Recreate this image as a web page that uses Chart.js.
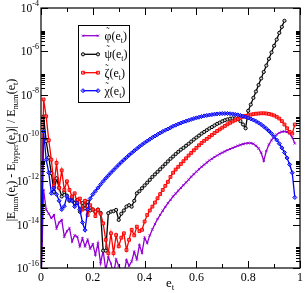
<!DOCTYPE html>
<html>
<head>
<meta charset="utf-8">
<script src="https://cdn.jsdelivr.net/npm/chart.js@4.4.0/dist/chart.umd.min.js"></script>
<style>
body { margin: 0; background: #fff; }
canvas { display: block; }
</style>
</head>
<body>
<canvas id="errChart" width="306" height="293"></canvas>
<script>
/* eccentricity grid */
const eT = [0,0.01,0.02,0.03,0.04,0.05,0.06,0.07,0.08,0.09,
  0.1,0.11,0.12,0.13,0.14,0.15,0.16,0.17,0.18,0.19,
  0.2,0.21,0.22,0.23,0.24,0.25,0.26,0.27,0.28,0.29,
  0.3,0.31,0.32,0.33,0.34,0.35,0.36,0.37,0.38,0.39,
  0.4,0.41,0.42,0.43,0.44,0.45,0.46,0.47,0.48,0.49,
  0.5,0.51,0.52,0.53,0.54,0.55,0.56,0.57,0.58,0.59,
  0.6,0.61,0.62,0.63,0.64,0.65,0.66,0.67,0.68,0.69,
  0.7,0.71,0.72,0.73,0.74,0.75,0.76,0.77,0.78,0.79,
  0.8,0.81,0.82,0.83,0.84,0.85,0.86,0.87,0.88,0.89,
  0.9,0.91,0.92,0.93,0.94,0.95,0.96,0.97,0.98,0.99];

/* relative errors, one value per e_t (null = no point) */
const phiErr = [1e-17,4.0e-13,5.0e-14,3.2e-14,2.0e-14,2.8e-14,6.8e-15,1.26e-14,1.66e-14,2.8e-15,
  5.0e-15,6.8e-15,1.66e-15,3.2e-15,2.8e-15,1e-15,2.35e-15,1e-15,2.0e-15,7.9e-16,
  1.26e-15,4.0e-16,1.38e-15,1.66e-16,6.3e-16,7.9e-17,3.2e-16,1.6e-16,5.0e-17,2.5e-16,
  1.26e-16,7.9e-17,5.0e-17,2.35e-16,1.26e-16,2.0e-16,5.6e-16,2.5e-16,1.15e-15,5.0e-16,
  2.5e-15,1.4e-15,3.2e-15,6.0e-15,1.07e-14,1.8e-14,2.8e-14,4.4e-14,6.6e-14,9.8e-14,
  1.4e-13,2.0e-13,2.75e-13,3.7e-13,5.0e-13,6.6e-13,8.9e-13,1.2e-12,1.62e-12,2.14e-12,
  2.8e-12,3.6e-12,4.7e-12,5.9e-12,7.4e-12,9.1e-12,1.1e-11,1.32e-11,1.55e-11,1.82e-11,
  2.1e-11,2.4e-11,2.75e-11,3.1e-11,3.5e-11,3.9e-11,4.4e-11,4.8e-11,5.2e-11,5.6e-11,
  5.8e-11,5.8e-11,5.4e-11,4.4e-11,3.3e-11,2.1e-11,8.7e-12,2.5e-11,5.0e-11,7.9e-11,
  1.12e-10,1.45e-10,1.74e-10,1.95e-10,2.0e-10,1.9e-10,1.6e-10,1.07e-10,5.6e-11,null];

const psiErr = [1.8e-15,1e-9,7.1e-11,1.26e-11,2.35e-12,3.3e-13,1.38e-12,5.0e-13,2.0e-13,3.2e-13,
  2.2e-13,1.26e-13,1.8e-13,1e-13,1.4e-13,4.0e-14,1e-13,5.6e-14,1.12e-13,4.5e-14,
  5.0e-14,4.0e-14,5.0e-14,3.5e-14,6.3e-16,6.3e-16,3.4e-14,4.0e-14,4.2e-14,4.8e-14,
  1.66e-14,3.2e-14,4.5e-14,6.8e-14,7.9e-14,6.8e-14,1.26e-13,2.8e-13,3.5e-13,4.8e-13,
  6.5e-13,8.7e-13,1.17e-12,1.6e-12,2.1e-12,2.75e-12,3.6e-12,4.8e-12,6.3e-12,8.3e-12,
  1.1e-11,1.4e-11,1.82e-11,2.3e-11,2.9e-11,3.5e-11,4.4e-11,5.4e-11,6.8e-11,8.5e-11,
  1.05e-10,1.29e-10,1.6e-10,1.9e-10,2.3e-10,2.75e-10,3.2e-10,3.8e-10,4.5e-10,5.1e-10,
  5.9e-10,6.6e-10,7.2e-10,7.8e-10,8.1e-10,8.1e-10,7.6e-10,6.0e-10,4.2e-10,2.8e-10,
  1.8e-9,3.5e-9,7.1e-9,1.4e-8,2.8e-8,5.6e-8,1.12e-7,2.2e-7,4.5e-7,8.9e-7,
  1.8e-6,3.5e-6,7.1e-6,1.35e-5,2.57e-5,null,null,null,null,null];

const zetaErr = [1e-17,6.0e-9,1e-9,7.9e-11,1e-11,6.3e-13,7.1e-12,5.0e-13,3.2e-12,4.0e-13,
  1e-12,4.0e-13,2.0e-13,2.8e-13,1e-13,1.6e-13,5.0e-14,1.26e-13,2.8e-14,7.9e-14,
  5.0e-14,2.5e-14,4.8e-14,3.2e-14,1.15e-14,2.0e-15,4.8e-16,4.0e-15,4.8e-16,3.3e-15,
  1e-15,2.5e-15,4.0e-15,6.8e-16,2.0e-15,5.8e-15,3.2e-15,8.1e-15,5.0e-15,5.8e-15,
  1.4e-14,2.8e-14,4.5e-14,6.8e-14,1.05e-13,1.66e-13,2.57e-13,4.0e-13,6.2e-13,9.5e-13,
  1.6e-12,2.5e-12,3.5e-12,4.7e-12,6.3e-12,8.5e-12,1.15e-11,1.55e-11,2.04e-11,2.7e-11,
  3.5e-11,4.6e-11,5.9e-11,7.4e-11,9.1e-11,1.12e-10,1.38e-10,1.7e-10,2.1e-10,2.5e-10,
  3.0e-10,3.6e-10,4.3e-10,5.0e-10,5.8e-10,6.6e-10,7.6e-10,8.5e-10,9.5e-10,1.05e-9,
  1.12e-9,1.2e-9,1.26e-9,1.32e-9,1.35e-9,1.38e-9,1.38e-9,1.35e-9,1.29e-9,1.2e-9,
  1.1e-9,9.5e-10,7.9e-10,6.0e-10,4.2e-10,2.8e-10,1.9e-10,1.6e-10,4.2e-10,null];

const chiErr = [1e-17,2.0e-10,1e-11,2.5e-12,2.8e-13,5.0e-13,2.5e-13,1.26e-13,5.0e-14,7.1e-14,
  2.0e-13,1.4e-13,1.26e-13,6.8e-14,1e-13,5.0e-14,1.26e-14,5.6e-15,5.0e-14,1.6e-13,
  2.5e-13,3.5e-13,5.0e-13,7.1e-13,1e-12,1.38e-12,1.86e-12,2.5e-12,3.3e-12,4.4e-12,
  5.8e-12,7.6e-12,9.8e-12,1.26e-11,1.62e-11,2.04e-11,2.57e-11,3.2e-11,4.0e-11,4.9e-11,
  6.0e-11,7.2e-11,8.7e-11,1.05e-10,1.23e-10,1.45e-10,1.7e-10,2.0e-10,2.3e-10,2.6e-10,
  3.0e-10,3.5e-10,3.9e-10,4.4e-10,4.9e-10,5.5e-10,6.0e-10,6.6e-10,7.2e-10,7.9e-10,
  8.5e-10,9.1e-10,9.8e-10,1.05e-9,1.1e-9,1.15e-9,1.2e-9,1.26e-9,1.29e-9,1.32e-9,
  1.35e-9,1.35e-9,1.35e-9,1.32e-9,1.29e-9,1.23e-9,1.17e-9,1.1e-9,1.02e-9,9.3e-10,
  8.5e-10,7.6e-10,6.8e-10,5.9e-10,5.0e-10,4.2e-10,3.4e-10,2.7e-10,2.1e-10,1.6e-10,
  1.15e-10,8.1e-11,5.5e-11,3.5e-11,2.14e-11,1.2e-11,6.0e-12,2.5e-12,1.8e-13,null];

/* axis labels and ticks */
const xTickLabels = ['0','0.2','0.4','0.6','0.8','1'];
const xMajorTicks = [0,0.2,0.4,0.6,0.8,1];
const xMinorTicks = [0.1,0.3,0.5,0.7,0.9];
const yTickExps = [-4,-6,-8,-10,-12,-14,-16];
const greekNames = ['φ','ψ','ζ','χ'];

const SERIF = '"Liberation Serif", "DejaVu Serif", serif';

function toPoints(arr) {
  return eT.map((x, i) => ({ x: x, y: arr[i] })).filter(p => p.y !== null);
}

// draws text pieces, sub pieces smaller and lowered
function drawRich(ctx, parts, x, y, size, subSize) {
  let cx = x;
  parts.forEach(p => {
    ctx.font = (p.sub ? subSize : size) + 'px ' + SERIF;
    ctx.fillText(p.t, cx, p.sub ? y + 3 : y);
    cx += ctx.measureText(p.t).width;
  });
  return cx - x;
}
function richWidth(ctx, parts, size, subSize) {
  let w = 0;
  parts.forEach(p => {
    ctx.font = (p.sub ? subSize : size) + 'px ' + SERIF;
    w += ctx.measureText(p.t).width;
  });
  return w;
}

const framePlugin = {
  id: 'framePlugin',
  afterDraw(chart) {
    const ctx = chart.ctx;
    const a = chart.chartArea;
    const xs = chart.scales.x, ys = chart.scales.y;
    ctx.save();
    ctx.strokeStyle = '#000';
    ctx.fillStyle = '#000';
    ctx.lineWidth = 1.2;
    ctx.strokeRect(a.left, a.top, a.right - a.left, a.bottom - a.top);

    // x ticks, inward at bottom and top
    ctx.lineWidth = 1;
    ctx.beginPath();
    xMajorTicks.forEach(v => {
      const px = Math.round(xs.getPixelForValue(v)) + 0.5;
      ctx.moveTo(px, a.bottom); ctx.lineTo(px, a.bottom - 7);
      ctx.moveTo(px, a.top); ctx.lineTo(px, a.top + 7);
    });
    xMinorTicks.forEach(v => {
      const px = Math.round(xs.getPixelForValue(v)) + 0.5;
      ctx.moveTo(px, a.bottom); ctx.lineTo(px, a.bottom - 4);
      ctx.moveTo(px, a.top); ctx.lineTo(px, a.top + 4);
    });
    // y ticks: major every 2 decades, log minor ticks in the decade above
    yTickExps.forEach(n => {
      const py = Math.round(ys.getPixelForValue(Math.pow(10, n))) + 0.5;
      ctx.moveTo(a.left, py); ctx.lineTo(a.left + 7, py);
      ctx.moveTo(a.right, py); ctx.lineTo(a.right - 7, py);
      for (let k = 2; k <= 9; k++) {
        const v = k * Math.pow(10, n);
        if (v > 1e-4) continue;
        const my = Math.round(ys.getPixelForValue(v)) + 0.5;
        ctx.moveTo(a.left, my); ctx.lineTo(a.left + 4, my);
        ctx.moveTo(a.right, my); ctx.lineTo(a.right - 4, my);
      }
    });
    ctx.stroke();

    // y tick labels 10^n
    ctx.textBaseline = 'alphabetic';
    yTickExps.forEach(n => {
      const py = ys.getPixelForValue(Math.pow(10, n));
      ctx.font = '8px ' + SERIF;
      ctx.textAlign = 'right';
      const sup = String(n);
      const sw = ctx.measureText(sup).width;
      ctx.fillText(sup, 39, py - 2);
      ctx.font = '11.5px ' + SERIF;
      ctx.fillText('10', 39 - sw, py + 4);
    });

    // x title e_t
    ctx.textAlign = 'left';
    drawRich(ctx, [{ t: 'e' }, { t: 't', sub: true }], 166, 287, 13, 9);

    // y title, rotated
    ctx.save();
    ctx.translate(15, 150);
    ctx.rotate(-Math.PI / 2);
    const yParts = [
      { t: '|E' }, { t: 'num', sub: true }, { t: '(e' }, { t: 't', sub: true },
      { t: ') - E' }, { t: 'hyper', sub: true }, { t: '(e' }, { t: 't', sub: true },
      { t: ')| / E' }, { t: 'num', sub: true }, { t: '(e' }, { t: 't', sub: true }, { t: ')' }
    ];
    const tw = richWidth(ctx, yParts, 12, 8.5);
    drawRich(ctx, yParts, -tw / 2, 0, 12, 8.5);
    ctx.restore();

    // legend box
    const bx = 78, by = 25, bw = 51, bh = 77;
    ctx.fillStyle = '#fff';
    ctx.fillRect(bx, by, bw, bh);
    ctx.strokeStyle = '#000';
    ctx.lineWidth = 1;
    ctx.strokeRect(bx + 0.5, by + 0.5, bw, bh);
    const rows = [35.7, 54.3, 72.7, 90.7];
    rows.forEach((ry, di) => {
      const ds = chart.data.datasets[di];
      ctx.strokeStyle = ds.borderColor;
      ctx.lineWidth = ds.borderWidth;
      ctx.beginPath();
      ctx.moveTo(83, ry); ctx.lineTo(98, ry);
      ctx.stroke();
      ctx.fillStyle = ds.pointBackgroundColor;
      ctx.lineWidth = ds.pointBorderWidth;
      [83, 98].forEach(px => {
        Chart.helpers.drawPoint(ctx, { pointStyle: ds.pointStyle, radius: ds.pointRadius, borderWidth: ds.pointBorderWidth, rotation: 0 }, px, ry);
      });
      ctx.fillStyle = '#000';
      ctx.textAlign = 'left';
      ctx.font = '12px ' + SERIF;
      const gw = ctx.measureText(greekNames[di]).width;
      drawRich(ctx, [{ t: greekNames[di] }, { t: '(e' }, { t: 't', sub: true }, { t: ')' }], 104.5, ry + 4, 12, 8);
      ctx.font = '10px ' + SERIF;
      ctx.textAlign = 'center';
      ctx.fillText('\u02DC', 104.5 + gw / 2, ry - 1);
    });
    ctx.restore();
  }
};

new Chart(document.getElementById('errChart'), {
  type: 'line',
  data: {
    datasets: [
      { label: 'phi', data: toPoints(phiErr), borderColor: '#9400d3', backgroundColor: '#9400d3',
        pointStyle: 'crossRot', pointRadius: 1.5, pointBorderWidth: 1, pointBackgroundColor: '#9400d3',
        borderWidth: 1.3, order: 3 },
      { label: 'psi', data: toPoints(psiErr), borderColor: '#000000', backgroundColor: '#000000',
        pointStyle: 'circle', pointRadius: 1.6, pointBorderWidth: 1, pointBackgroundColor: '#cccccc',
        borderWidth: 1.3, order: 2 },
      { label: 'zeta', data: toPoints(zetaErr), borderColor: '#ff0000', backgroundColor: '#ff0000',
        pointStyle: 'rect', pointRadius: 2, pointBorderWidth: 1, pointBackgroundColor: 'rgba(255,120,120,0.6)',
        borderWidth: 1.3, order: 1 },
      { label: 'chi', data: toPoints(chiErr), borderColor: '#0000ff', backgroundColor: '#0000ff',
        pointStyle: 'rectRot', pointRadius: 2, pointBorderWidth: 1, pointBackgroundColor: 'rgba(90,90,255,0.6)',
        borderWidth: 1.3, order: 0 }
    ]
  },
  options: {
    responsive: false,
    animation: false,
    devicePixelRatio: 1,
    layout: { padding: { top: 8, right: 4, left: 0, bottom: 0 } },
    plugins: { legend: { display: false }, tooltip: { enabled: false } },
    elements: { line: { tension: 0 } },
    scales: {
      x: {
        type: 'linear', min: 0, max: 1,
        afterFit: s => { s.height = 25; },
        grid: { display: false, drawTicks: false },
        border: { display: false },
        ticks: {
          stepSize: 0.2, autoSkip: false, maxRotation: 0, padding: 3, color: '#000',
          font: { family: SERIF, size: 12 },
          callback: (v, i) => xTickLabels[i]
        }
      },
      y: {
        type: 'logarithmic', min: 1e-16, max: 1e-4,
        afterFit: s => { s.width = 41; },
        grid: { display: false, drawTicks: false },
        border: { display: false },
        ticks: { display: false }
      }
    }
  },
  plugins: [framePlugin]
});
</script>
</body>
</html>
